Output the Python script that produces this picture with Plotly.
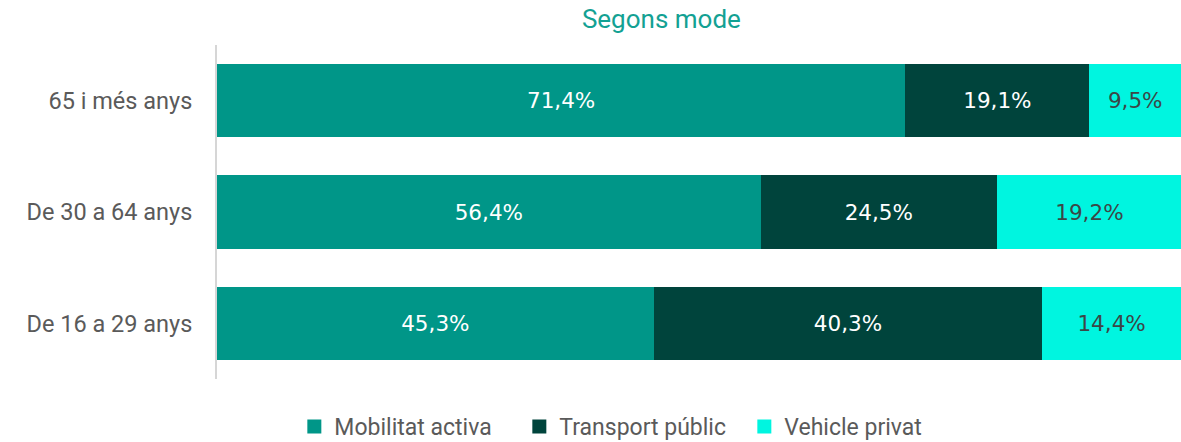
import plotly.graph_objects as go

# Age groups, listed bottom to top
grups = ["De 16 a 29 anys", "De 30 a 64 anys", "65 i més anys"]

mobilitat_activa = [45.3, 56.4, 71.4]
transport_public = [40.3, 24.5, 19.1]
vehicle_privat = [14.4, 19.2, 9.5]

series = [
    ("Mobilitat activa", mobilitat_activa, "#009688", "#ffffff"),
    ("Transport públic", transport_public, "#00443c", "#ffffff"),
    ("Vehicle privat", vehicle_privat, "#00f5e0", "#3b4747"),
]


def fmt(v):
    return f"{v:.1f}%".replace(".", ",")


fig = go.Figure()
for nom, vals, color, txtcolor in series:
    fig.add_trace(go.Bar(
        y=grups,
        x=vals,
        name=nom,
        orientation="h",
        marker=dict(color=color, line=dict(width=0)),
        text=[fmt(v) for v in vals],
        textposition="inside",
        insidetextanchor="middle",
        textfont=dict(family="DejaVu Sans", size=21.5, color=txtcolor),
        hoverinfo="skip",
        showlegend=False,
        legendgroup=nom,
    ))

# Legend keys: larger square swatches
for nom, vals, color, txtcolor in series:
    fig.add_trace(go.Scatter(
        x=[None], y=[None],
        mode="markers",
        name=nom,
        legendgroup=nom,
        marker=dict(symbol="square", size=14, color=color),
        hoverinfo="skip",
    ))

fig.update_layout(
    barmode="stack",
    bargap=0.34,
    width=1181,
    height=442,
    margin=dict(l=217, r=0, t=45, b=63),
    paper_bgcolor="white",
    plot_bgcolor="white",
    title=dict(
        text="Segons mode",
        x=0.56, xref="container", xanchor="center",
        y=0.958, yref="container", yanchor="middle",
        font=dict(family="Roboto", size=26, color="#13a193"),
    ),
    xaxis=dict(range=[0, 100], visible=False, fixedrange=True),
    yaxis=dict(
        showline=True, linecolor="#d6d6d6", linewidth=2,
        showgrid=False, zeroline=False, ticks="",
        ticklabelstandoff=18,
        tickfont=dict(family="Roboto", size=23.5, color="#5a5a5a"),
    ),
    legend=dict(
        orientation="h",
        x=0.535, xref="container", xanchor="center",
        y=0.035, yref="container", yanchor="middle",
        font=dict(family="Roboto", size=23, color="#5a5a5a"),
        entrywidth=180,
        entrywidthmode="pixels",
        itemwidth=30,
        traceorder="normal",
    ),
    showlegend=True,
)

fig.write_html("out.html")
